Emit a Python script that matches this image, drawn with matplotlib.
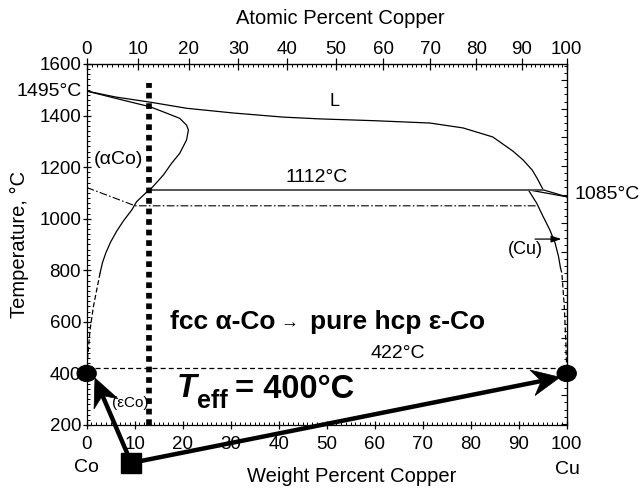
import numpy as np
import matplotlib
matplotlib.use("Agg")
import matplotlib.pyplot as plt
from matplotlib.patches import Ellipse, Polygon
from matplotlib.ticker import FixedLocator, NullFormatter

plt.rcParams['font.family'] = ['Liberation Sans', 'DejaVu Sans']

# Co-Cu phase boundaries (weight percent Cu, temperature in C)
liquidus_wt = [0, 6, 13.2, 20.9, 30.5, 40.9, 48.6, 60, 71.5, 78.4, 84.6, 88.8, 90.9, 92.8, 93.8, 95.1, 100]
liquidus_T = [1495, 1472, 1452, 1428, 1410, 1394, 1387, 1380, 1371, 1352, 1317, 1262, 1228, 1189, 1158, 1112, 1085]

aco_wt = [0, 6, 13.2, 16.7, 19.4, 20.8, 21.2, 20.8, 19.4, 17.7, 16.0, 13.5, 13.0, 10.4, 9.4, 7.6, 6.2, 5.0, 4.0, 3.3, 2.8]
aco_T = [1495, 1467, 1434, 1409, 1389, 1363, 1344, 1305, 1254, 1215, 1170, 1118, 1112, 1066, 1034, 990, 950, 910, 868, 830, 790]
aco_dash_wt = [2.8, 1.4, 0.7, 0.3, 0]
aco_dash_T = [790, 659, 569, 480, 422]

cu_solidus_wt = [92.0, 100]
cu_solidus_T = [1112, 1085]
cu_wt = [92.0, 93.75, 95.1, 96.5, 97.6, 98.3, 98.7]
cu_T = [1112, 1060, 1008, 956, 905, 853, 810]
cu_dash_wt = [98.7, 99.0, 99.5, 99.8, 100]
cu_dash_T = [810, 788, 659, 530, 422]

peritectic_wt = [13.0, 95.1]
peritectic_T = 1112
curie_wt = [0, 10.1, 93.75]
curie_T = [1121, 1050, 1050]
eutectoid_T = 422

vline_wt = 12.9
vline_T = [200, 1525]

t_eff = 400
end_wt = [0, 100]
square_pt = (9.3, 53)
tip_left = (1.73, 382)
tip_right = (98.6, 385)

M_CU, M_CO = 63.546, 58.933


def wt_to_at(w):
    w = np.clip(np.asarray(w, float), 0, 100)
    a = w / M_CU
    b = (100 - w) / M_CO
    return 100 * a / (a + b)


def at_to_wt(a):
    a = np.clip(np.asarray(a, float), 0, 100)
    m = a * M_CU
    return 100 * m / (m + (100 - a) * M_CO)


def c_to_f(t):
    return np.asarray(t, float) * 9 / 5 + 32


def f_to_c(t):
    return (np.asarray(t, float) - 32) * 5 / 9


fig = plt.figure(figsize=(6.42, 4.88), dpi=100)
ax = fig.add_axes([0.1350, 0.1291, 0.7477, 0.7398])
ax.set_xlim(0, 100)
ax.set_ylim(200, 1600)

lw = 0.9
ax.plot(liquidus_wt, liquidus_T, color='k', lw=lw)
ax.plot(aco_wt, aco_T, color='k', lw=lw)
ax.plot(aco_dash_wt, aco_dash_T, color='k', lw=lw, ls=(0, (4, 2)))
ax.plot(cu_solidus_wt, cu_solidus_T, color='k', lw=lw)
ax.plot(cu_wt, cu_T, color='k', lw=lw)
ax.plot(cu_dash_wt, cu_dash_T, color='k', lw=lw, ls=(0, (4, 2)))
ax.plot(peritectic_wt, [peritectic_T] * 2, color='#555555', lw=1.4)
ax.plot(curie_wt, curie_T, color='k', lw=0.8, ls=(0, (7, 2, 1.5, 2)))
ax.plot([0, 100], [eutectoid_T] * 2, color='k', lw=0.9, ls=(0, (4, 2.5)))

# heavy dotted composition marker
ax.plot([vline_wt] * 2, vline_T, color='k', lw=4.1, ls=(0, (1, 0.85)),
        dash_capstyle='butt', clip_on=False)

# small arrow pointing to the (Cu) field
ax.annotate('', xy=(98.9, 921), xytext=(93.4, 921),
            arrowprops=dict(arrowstyle='-|>,head_length=0.6,head_width=0.2',
                            color='k', lw=0.9, shrinkA=0, shrinkB=0))

# tick styling
ax.set_xticks(range(0, 101, 10))
ax.xaxis.set_minor_locator(FixedLocator(range(0, 101, 1)))
ax.set_yticks(range(200, 1601, 200))
ax.yaxis.set_minor_locator(FixedLocator(range(200, 1601, 20)))
ax.tick_params(which='major', direction='inout', length=6, width=0.9, labelsize=13.5)
ax.tick_params(which='minor', direction='in', length=2, width=0.7)
ax.tick_params(axis='x', which='major', pad=5)
ax.tick_params(axis='y', which='major', pad=1)
for s in ax.spines.values():
    s.set_linewidth(0.9)

top = ax.secondary_xaxis('top', functions=(wt_to_at, at_to_wt))
top.set_xticks(range(0, 101, 10))
top.xaxis.set_minor_locator(FixedLocator(range(0, 101, 1)))
top.tick_params(which='major', direction='inout', length=8, width=0.9, labelsize=13.5, pad=0)
top.tick_params(which='minor', direction='in', length=2, width=0.7)

right = ax.secondary_yaxis('right', functions=(c_to_f, f_to_c))
right.yaxis.set_major_locator(FixedLocator(range(400, 3000, 200)))
right.yaxis.set_minor_locator(FixedLocator(range(400, 3000, 50)))
right.yaxis.set_major_formatter(NullFormatter())
right.tick_params(which='major', direction='in', length=4, width=0.8)
right.tick_params(which='minor', direction='in', length=2, width=0.7)

# labels inside the plot
ax.text(51.7, 1454, 'L', fontsize=13, ha='center', va='center')
ax.text(6.6, 1228, '(\u03b1Co)', fontsize=14, ha='center', va='center')
ax.text(48.0, 1144, '1112\u00b0C', fontsize=14, ha='center', va='baseline')
ax.text(101.7, 1093, '1085\u00b0C', fontsize=14, ha='left', va='center', clip_on=False)
ax.text(-1.0, 1495, '1495\u00b0C', fontsize=14, ha='right', va='center', clip_on=False)
ax.text(64.9, 479, '422\u00b0C', fontsize=14, ha='center', va='center')
ax.text(91.4, 879, '(Cu)', fontsize=13, ha='center', va='center')
ax.text(9.0, 284, '(\u03b5Co)', fontsize=11, ha='center', va='center')

ax.text(17.35, 571, 'fcc \u03b1-Co', fontsize=19, fontweight='bold', ha='left', va='baseline')
ax.text(40.3, 597, '\u2192', fontsize=13, ha='left', va='center')
ax.text(46.5, 571, 'pure hcp \u03b5-Co', fontsize=19, fontweight='bold', ha='left', va='baseline')

ax.text(18.75, 310, 'T', fontsize=23.5, fontweight='bold', fontstyle='italic', ha='left', va='baseline')
ax.text(22.9, 266, 'eff', fontsize=18, fontweight='bold', ha='left', va='baseline')
ax.text(30.9, 305, '= %d\u00b0C' % t_eff, fontsize=23.5, fontweight='bold', ha='left', va='baseline')

# axis titles and element names
fig.text(340 / 642, 1 - 19 / 488, 'Atomic Percent Copper', fontsize=14.5, ha='center', va='center')
fig.text(351.7 / 642, 1 - 476.7 / 488, 'Weight Percent Copper', fontsize=14.5, ha='center', va='center')
fig.text(19 / 642, 1 - 244.5 / 488, 'Temperature, \u00b0C', fontsize=14.5, ha='center', va='center',
         rotation=90)
fig.text(86 / 642, 1 - 467 / 488, 'Co', fontsize=14, ha='center', va='center')
fig.text(567.5 / 642, 1 - 470 / 488, 'Cu', fontsize=14, ha='center', va='center')


def big_arrow(start, tip, L=28, W=13, notch=9):
    p0 = ax.transData.transform(start)
    p1 = ax.transData.transform(tip)
    u = (p1 - p0) / np.hypot(*(p1 - p0))
    n = np.array([-u[1], u[0]])
    base = p1 - (L - notch) * u
    head = np.array([p1, p1 - L * u + W * n, base, p1 - L * u - W * n])
    inv = ax.transData.inverted()
    b = inv.transform(base)
    ax.plot([start[0], b[0]], [start[1], b[1]], color='k', lw=3.2,
            solid_capstyle='butt', clip_on=False, zorder=5)
    ax.add_patch(Polygon(inv.transform(head), closed=True, fc='k', ec='k', lw=0.5,
                         clip_on=False, zorder=5))


big_arrow(square_pt, tip_left)
big_arrow(square_pt, tip_right)

for w in end_wt:
    ax.add_patch(Ellipse((w, t_eff), width=19 / 4.8, height=16 / 0.2579, fc='k', ec='k',
                         clip_on=False, zorder=6))
ax.plot(*square_pt, marker='s', ms=14.5, color='k', clip_on=False, zorder=7)

fig.savefig('out.png', dpi=100)
